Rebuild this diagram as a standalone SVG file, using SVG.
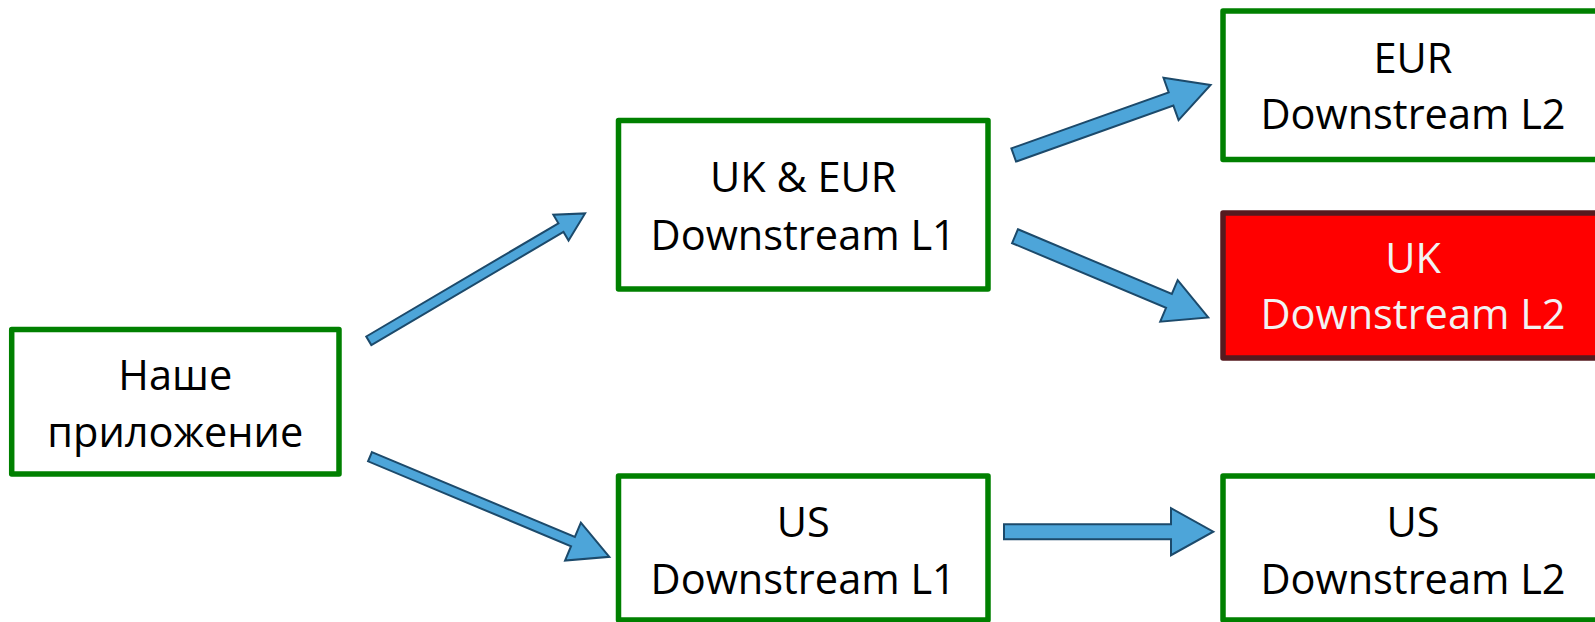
<svg xmlns="http://www.w3.org/2000/svg" width="1595" height="622" viewBox="0 0 1595 622">
<style>
.box{fill:#ffffff;stroke:#008000;stroke-width:5.5;stroke-linejoin:round}
.bad{fill:#ff0000;stroke:#561A1F;stroke-width:5.5;stroke-linejoin:round}
.t{font-family:"Open Sans","Noto Sans","Liberation Sans",sans-serif;font-size:41.5px;fill:#000000;text-anchor:middle}
.tw{fill:#f2f2f2}
.arr{fill:#4DA5D9;stroke:#1C4A6B;stroke-width:2;stroke-linejoin:miter}
</style>
<rect width="1595" height="622" fill="#ffffff"/>
<g id="connectors">
  <polygon class="arr" transform="translate(368.8,340.8) rotate(-30.5)" points="0,-5 223,-5 223,-15 251,0 223,15 223,5 0,5"/>
  <polygon class="arr" transform="translate(370,456.7) rotate(22.7)" points="0,-5 220,-5 220,-20.5 259.4,0 220,20.5 220,5 0,5"/>
  <polygon class="arr" transform="translate(1013.7,155) rotate(-19.6)" points="0,-7 167,-7 167,-22.5 209,0 167,22.5 167,7 0,7"/>
  <polygon class="arr" transform="translate(1015,236.2) rotate(22.8)" points="0,-7.5 167,-7.5 167,-22.5 209.6,0 167,22.5 167,7.5 0,7.5"/>
  <polygon class="arr" transform="translate(1004,531.7)" points="0,-7.5 167,-7.5 167,-23.5 209.3,0 167,23.5 167,7.5 0,7.5"/>
</g>
<g id="node-app">
  <rect class="box" x="11.7" y="329.5" width="327.3" height="144.5"/>
  <text class="t" x="175.3" y="389.5">Наше</text>
  <text class="t" x="175.3" y="447">приложение</text>
</g>
<g id="node-ukeur-l1">
  <rect class="box" x="618.5" y="120.5" width="369.5" height="168.5"/>
  <text class="t" x="803.2" y="192">UK &amp; EUR</text>
  <text class="t" x="803.2" y="249.5">Downstream L1</text>
</g>
<g id="node-us-l1">
  <rect class="box" x="618.5" y="476" width="369.5" height="144"/>
  <text class="t" x="803.2" y="537">US</text>
  <text class="t" x="803.2" y="594">Downstream L1</text>
</g>
<g id="node-eur-l2">
  <rect class="box" x="1223" y="11" width="380" height="148.5"/>
  <text class="t" x="1413" y="72.5">EUR</text>
  <text class="t" x="1413" y="128.5">Downstream L2</text>
</g>
<g id="node-uk-l2">
  <rect class="bad" x="1223" y="213" width="380" height="145"/>
  <text class="t tw" x="1413" y="273">UK</text>
  <text class="t tw" x="1413" y="329">Downstream L2</text>
</g>
<g id="node-us-l2">
  <rect class="box" x="1223" y="476" width="380" height="144"/>
  <text class="t" x="1413" y="537">US</text>
  <text class="t" x="1413" y="594">Downstream L2</text>
</g>
</svg>
